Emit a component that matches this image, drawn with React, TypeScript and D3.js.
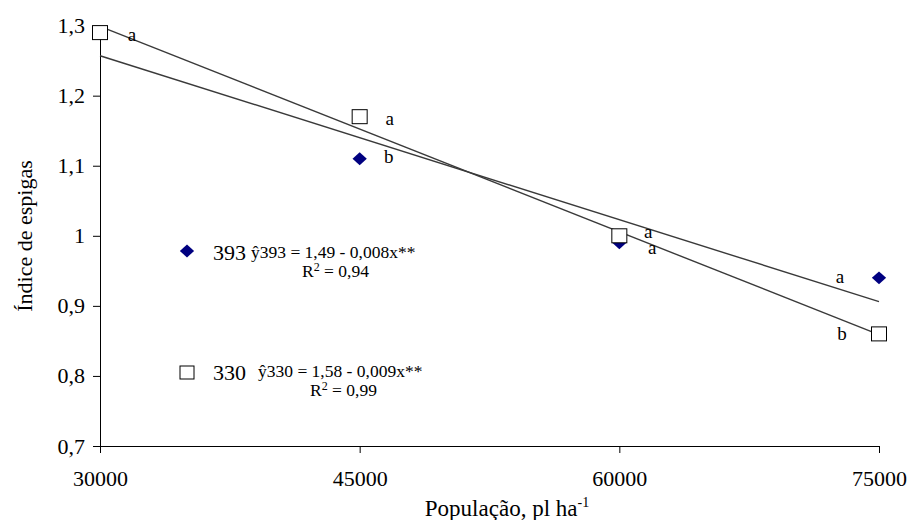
import React, { useEffect, useRef } from "react";
import * as d3 from "d3";

const populations = [30000, 45000, 60000, 75000];
const values393 = [1.29, 1.11, 0.99, 0.94];
const values330 = [1.29, 1.17, 1.0, 0.86];
const letters393 = ["", "b", "a", "a"];
const letters330 = ["a", "a", "a", "b"];
// trendline ends at 30000 and 75000
const trendX = [30000, 75000];
const trend393 = [1.257, 0.906];
const trend330 = [1.299, 0.859];
const yTicks = [0.7, 0.8, 0.9, 1.0, 1.1, 1.2, 1.3];

const serif = "Liberation Serif, Times New Roman, serif";

const Chart = () => {
  const ref = useRef<SVGSVGElement>(null);

  useEffect(() => {
    const svg = d3.select(ref.current);
    svg.selectAll("*").remove();

    const x = d3.scaleLinear().domain([30000, 75000]).range([100, 879]);
    const y = d3.scaleLinear().domain([0.7, 1.3]).range([446, 25.6]);

    // axes
    const yAxis = svg
      .append("g")
      .attr("transform", "translate(100,0)")
      .call(
        d3
          .axisLeft(y)
          .tickValues(yTicks)
          .tickSize(7)
          .tickSizeOuter(0)
          .tickPadding(8)
          .tickFormat((d) => d3.format(".1f")(+d).replace(".0", "").replace(".", ","))
      );
    const xAxis = svg
      .append("g")
      .attr("transform", "translate(0,446)")
      .call(
        d3
          .axisBottom(x)
          .tickValues(populations)
          .tickSize(7)
          .tickSizeOuter(0)
          .tickPadding(17)
          .tickFormat((d) => String(d))
      );
    [yAxis, xAxis].forEach((g) => {
      g.attr("font-family", serif);
      g.selectAll("path,line").attr("stroke", "#000").attr("stroke-width", 1);
      g.selectAll("text")
        .attr("font-family", serif)
        .attr("font-size", 22)
        .attr("fill", "#000");
    });

    // trendlines
    [trend393, trend330].forEach((t) => {
      svg
        .append("line")
        .attr("x1", x(trendX[0]))
        .attr("y1", y(t[0]))
        .attr("x2", x(trendX[1]))
        .attr("y2", y(t[1]))
        .attr("stroke", "#3a3a3a")
        .attr("stroke-width", 1.4);
    });

    const diamond = d3.symbol().type(d3.symbolDiamond2).size(130);

    svg
      .append("g")
      .selectAll("path")
      .data(values393)
      .join("path")
      .attr("d", diamond)
      .attr("transform", (d, i) => `translate(${x(populations[i])},${y(d)}) scale(1,0.9)`)
      .attr("fill", "#000080");

    svg
      .append("g")
      .selectAll("rect")
      .data(values330)
      .join("rect")
      .attr("x", (d, i) => x(populations[i]) - 7.5)
      .attr("y", (d) => y(d) - 7)
      .attr("width", 15)
      .attr("height", 14)
      .attr("fill", "#fff")
      .attr("stroke", "#000")
      .attr("stroke-width", 1);

    // significance letters (offset to baseline)
    const letterPos330 = [
      [32, 8.5],
      [30, 8],
      [29, 2],
      [-37, 6],
    ];
    const letterPos393 = [
      [0, 0],
      [29, 4],
      [33, 11],
      [-39, 5.5],
    ];
    const addLetters = (vals: number[], letters: string[], offs: number[][]) => {
      svg
        .append("g")
        .selectAll("text")
        .data(vals)
        .join("text")
        .attr("x", (d, i) => x(populations[i]) + offs[i][0])
        .attr("y", (d, i) => y(d) + offs[i][1])
        .attr("text-anchor", "middle")
        .attr("font-family", serif)
        .attr("font-size", 19)
        .attr("fill", "#000")
        .text((d, i) => letters[i]);
    };
    addLetters(values330, letters330, letterPos330);
    addLetters(values393, letters393, letterPos393);

    // legend
    svg
      .append("path")
      .attr("d", diamond)
      .attr("transform", "translate(187,251) scale(1,0.9)")
      .attr("fill", "#000080");
    svg
      .append("rect")
      .attr("x", 180)
      .attr("y", 366)
      .attr("width", 14)
      .attr("height", 13)
      .attr("fill", "#fff")
      .attr("stroke", "#000");

    const legend = [
      { name: "393", ny: 260, eq: "ŷ393 = 1,49 - 0,008x**", ex: 251, ey: 258, r2: "0,94", rx: 302, ry: 277 },
      { name: "330", ny: 380, eq: "ŷ330 = 1,58 - 0,009x**", ex: 258, ey: 377, r2: "0,99", rx: 310, ry: 396 },
    ];
    legend.forEach((l) => {
      svg
        .append("text")
        .attr("x", 213)
        .attr("y", l.ny)
        .attr("font-family", serif)
        .attr("font-size", 22)
        .attr("fill", "#000")
        .text(l.name);
      svg
        .append("text")
        .attr("x", l.ex)
        .attr("y", l.ey)
        .attr("font-family", serif)
        .attr("font-size", 17.5)
        .attr("fill", "#000")
        .text(l.eq);
      const r = svg
        .append("text")
        .attr("x", l.rx)
        .attr("y", l.ry)
        .attr("font-family", serif)
        .attr("font-size", 17.5)
        .attr("fill", "#000");
      r.append("tspan").text("R");
      r.append("tspan").attr("dy", -6).attr("font-size", 12).text("2");
      r.append("tspan").attr("dy", 6).text(" = " + l.r2);
    });

    // axis titles
    svg
      .append("text")
      .attr("transform", "translate(32,236) rotate(-90)")
      .attr("text-anchor", "middle")
      .attr("font-family", serif)
      .attr("font-size", 22)
      .attr("fill", "#000")
      .text("Índice de espigas");

    const xt = svg
      .append("text")
      .attr("x", 507)
      .attr("y", 516)
      .attr("text-anchor", "middle")
      .attr("font-family", serif)
      .attr("font-size", 23)
      .attr("fill", "#000");
    xt.append("tspan").text("População, pl ha");
    xt.append("tspan").attr("dy", -9).attr("font-size", 14).text("-1");
  }, []);

  return (
    <svg
      ref={ref}
      width={910}
      height={520}
      style={{ position: "absolute", left: 0, top: 0, background: "#fff" }}
    />
  );
};

export default function App() {
  return <Chart />;
}
